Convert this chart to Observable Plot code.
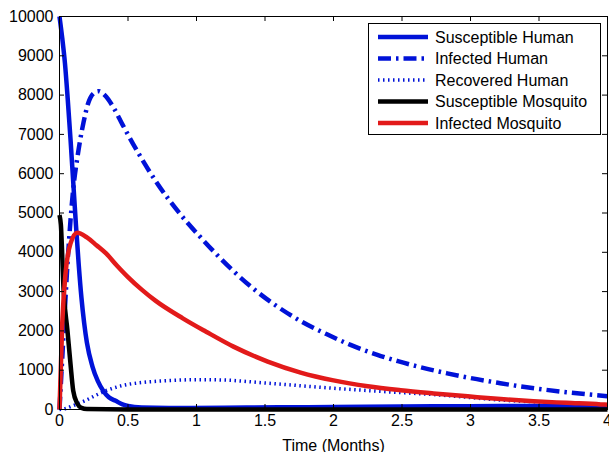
<!DOCTYPE html>
<html>
<head>
<meta charset="utf-8">
<script src="https://cdn.jsdelivr.net/npm/d3@7"></script>
<script src="https://cdn.jsdelivr.net/npm/@observablehq/plot@0.6"></script>
<style>
  html, body { margin: 0; padding: 0; background: #fff; }
  #wrap { position: relative; width: 609px; height: 452px; }
  #legend { position: absolute; left: 368px; top: 23px; }
</style>
</head>
<body>
<div id="wrap"></div>
<script>
// ---- data ----
const seriesNames = ["Susceptible Human", "Infected Human", "Recovered Human", "Susceptible Mosquito", "Infected Mosquito"];

const shT = [0, 0.02, 0.04, 0.06, 0.08, 0.1, 0.12, 0.14, 0.16, 0.18, 0.2, 0.24, 0.28, 0.32, 0.36, 0.41, 0.46, 0.5, 0.6, 0.8, 1.2, 1.6, 2.0, 2.5, 3.0, 3.5, 4.0];
const shV = [10000, 9450, 8800, 7900, 6900, 5800, 4700, 3700, 2850, 2200, 1700, 1100, 720, 470, 310, 220, 130, 90, 50, 40, 45, 55, 65, 75, 85, 90, 90];

const ihT = [0, 0.02, 0.04, 0.06, 0.08, 0.1, 0.13, 0.153, 0.175, 0.21, 0.25, 0.285, 0.33, 0.4, 0.46, 0.6, 0.72, 0.87, 1.03, 1.27, 1.42, 1.59, 1.76, 1.96, 2.12, 2.32, 2.47, 2.63, 2.83, 3.0, 3.2, 3.36, 3.53, 3.7, 3.87, 4.0];
const ihV = [0, 1300, 2600, 3800, 4800, 5600, 6400, 6900, 7300, 7800, 8050, 8100, 8000, 7650, 7250, 6380, 5720, 5020, 4380, 3520, 3060, 2620, 2250, 1900, 1650, 1390, 1230, 1080, 920, 800, 680, 590, 510, 440, 380, 340];

const rhT = [0, 0.05, 0.1, 0.19, 0.27, 0.34, 0.46, 0.61, 0.77, 1.03, 1.2, 1.52, 2.0, 2.49, 2.73, 2.98, 3.22, 3.5, 3.75, 4.0];
const rhV = [0, 30, 100, 230, 370, 480, 610, 690, 730, 760, 750, 670, 540, 430, 380, 310, 240, 190, 150, 120];

const smT = [0, 0.01, 0.03, 0.058, 0.08, 0.1, 0.13, 0.16, 0.2, 0.5, 1, 2, 3, 4];
const smV = [4950, 4700, 3030, 2010, 1170, 480, 150, 40, 10, 0, 0, 0, 0, 0];

const imT = [0, 0.02, 0.044, 0.08, 0.13, 0.2, 0.27, 0.34, 0.42, 0.5, 0.6, 0.7, 0.9, 1.07, 1.27, 1.52, 1.76, 2.0, 2.25, 2.49, 2.73, 2.98, 3.22, 3.46, 3.7, 3.95, 4.0];
const imV = [0, 2190, 3460, 4220, 4500, 4380, 4180, 3970, 3660, 3370, 3050, 2770, 2320, 1980, 1600, 1220, 940, 740, 590, 490, 410, 335, 265, 210, 170, 130, 120];

const xTicks = [0, 0.5, 1, 1.5, 2, 2.5, 3, 3.5, 4];
const yTicks = [0, 1000, 2000, 3000, 4000, 5000, 6000, 7000, 8000, 9000, 10000];
const xLabel = "Time (Months)";

// ---- styles ----
const BLUE = "#0012d8", RED = "#e21a1a", BLACK = "#000000";
const styles = [
  {color: BLUE, width: 4.5, dash: null},
  {color: BLUE, width: 4.5, dash: "13,5,2.5,5"},
  {color: BLUE, width: 3.5, dash: "1.5,3.5"},
  {color: BLACK, width: 4.5, dash: null},
  {color: RED, width: 4.5, dash: null}
];
const seriesT = [shT, ihT, rhT, smT, imT];
const seriesV = [shV, ihV, rhV, smV, imV];
const tables = seriesNames.map((name, k) => seriesT[k].map((t, i) => ({t, v: seriesV[k][i], name})));

const FONT = "'Liberation Sans', Arial, Helvetica, sans-serif";
const W = 609, H = 452, ML = 59, MR = 2, MT = 16, MB = 43;
const TK = 5; // inward tick length
const innerW = W - ML - MR, innerH = H - MT - MB;

const chart = Plot.plot({
  width: W,
  height: H,
  marginLeft: ML,
  marginRight: MR,
  marginTop: MT,
  marginBottom: MB,
  style: {fontFamily: FONT, fontSize: "16px", color: "#000", background: "#fff", overflow: "visible"},
  x: {domain: [0, 4]},
  y: {domain: [0, 10000]},
  marks: [
    ...tables.map((tb, k) => Plot.line(tb, {
      x: "t", y: "v", stroke: styles[k].color, strokeWidth: styles[k].width,
      strokeDasharray: styles[k].dash, curve: "monotone-x", strokeLinecap: "butt", strokeLinejoin: "round"
    })),
    // inward ticks on all four sides
    Plot.tickX(xTicks, {x: d => d, insetTop: innerH - TK, stroke: "#000"}),
    Plot.tickX(xTicks, {x: d => d, insetBottom: innerH - TK, stroke: "#000"}),
    Plot.tickY(yTicks, {y: d => d, insetRight: innerW - TK, stroke: "#000"}),
    Plot.tickY(yTicks, {y: d => d, insetLeft: innerW - TK, stroke: "#000"}),
    Plot.frame({stroke: "#000", strokeWidth: 1}),
    Plot.axisX(xTicks, {anchor: "bottom", tickSize: 0, tickPadding: 5, tickFormat: d => String(d), label: xLabel, labelAnchor: "center", labelOffset: 41, labelArrow: "none", fontSize: 16}),
    Plot.axisY(yTicks, {anchor: "left", tickSize: 0, tickPadding: 6, tickFormat: d => String(d), label: null, fontSize: 16})
  ]
});

const wrap = document.getElementById("wrap");
wrap.appendChild(chart);

// ---- legend (overlay inside the axes) ----
const lg = d3.select(wrap).append("svg").attr("id", "legend")
  .attr("width", 233).attr("height", 112)
  .style("font-family", FONT).style("font-size", "16px");
lg.append("rect").attr("x", 0.5).attr("y", 0.5).attr("width", 232).attr("height", 111)
  .attr("fill", "#fff").attr("stroke", "#000");
seriesNames.forEach((name, k) => {
  const cy = 14 + k * 21.5;
  lg.append("line").attr("x1", 10).attr("x2", 60).attr("y1", cy).attr("y2", cy)
    .attr("stroke", styles[k].color).attr("stroke-width", styles[k].width)
    .attr("stroke-dasharray", styles[k].dash);
  lg.append("text").attr("x", 67).attr("y", cy).attr("dy", "0.35em").attr("fill", "#000").text(name);
});
</script>
</body>
</html>
